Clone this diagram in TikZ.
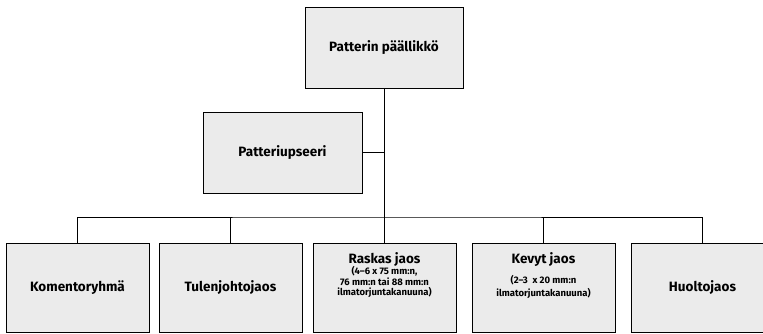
\documentclass[tikz,border=0pt]{standalone}
\usepackage{fontspec}
\setmainfont{Fira Sans}
\usetikzlibrary{positioning}
\definecolor{boxgray}{RGB}{235,235,235}
\tikzset{
  %% ---- boxes ----
  orgbox/.style  = {rectangle, draw=black, line width=0.9pt,
                    fill=boxgray, align=center, inner sep=0pt,
                    minimum width=143pt, minimum height=89pt,
                    font=\bfseries\fontsize{13.5}{15}\selectfont},
  boxtext/.style = {align=center, inner sep=0pt,
                    font=\bfseries\fontsize{9.5}{#1}\selectfont},
  boxtext/.default = 10.5,
  %% ---- lines ----
  link/.style    = {line width=0.9pt, color=black},
}
\newcommand{\boxtitle}[1]{{\fontsize{13.5}{15}\selectfont #1}}

\begin{document}
\begin{tikzpicture}[x=1pt, y=-1pt]
\useasboundingbox (0,0) rectangle (763,333);
\node[orgbox, minimum width=158pt, minimum height=81pt] (chief)   at (384,47.5)  {Patterin päällikkö};
\node[orgbox, minimum width=159pt, minimum height=81pt] (officer) at (282.5,152.5) {Patteriupseeri};
\node[orgbox] (command) at (77.5,287.5)  {Komentoryhmä};
\node[orgbox] (fire)    at (230.5,287.5) {Tulenjohtojaos};
\node[orgbox] (heavy)   at (384.5,287.5) {};
\node[orgbox] (light)   at (543.5,287.5) {};
\node[orgbox] (supply)  at (702.5,287.5) {Huoltojaos};
\node[boxtext, below=10pt of heavy.north] (heavytext)
  {\boxtitle{Raskas jaos}\\[-1pt](4–6 x 75 mm:n,\\76 mm:n tai 88 mm:n\\ilmatorjuntakanuuna)};
\node[boxtext=13, below=10pt of light.north] (lighttext)
  {\boxtitle{Kevyt jaos}\\[7pt](2–3\enspace x 20 mm:n\\ilmatorjuntakanuuna)};
%% ---- connectors ----
\coordinate (bus) at (chief.south |- 0,217);
\draw[link] (chief.south) -- (bus);
\draw[link] (officer.east) -- (officer.east -| chief.south);
\draw[link] (command.north) |- (bus) -| (supply.north);
\foreach \n in {fire, heavy, light}
  \draw[link] (\n.north) -- (\n.north |- bus);
\end{tikzpicture}
\end{document}
